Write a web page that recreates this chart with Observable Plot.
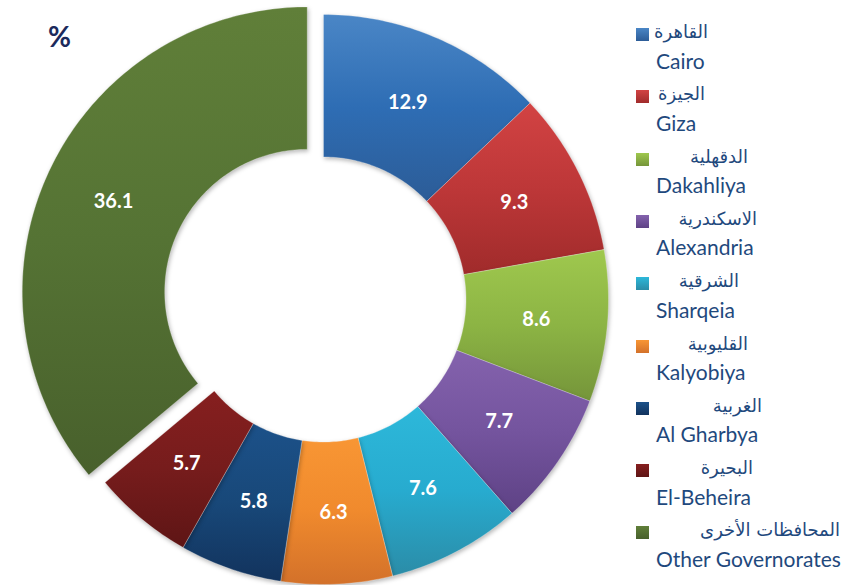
<!DOCTYPE html>
<html>
<head>
<meta charset="utf-8">
<script src="https://cdn.jsdelivr.net/npm/d3@7"></script>
<script src="https://cdn.jsdelivr.net/npm/@observablehq/plot@0.6"></script>
<style>
  html, body { margin: 0; padding: 0; background: #ffffff; }
  #wrap { position: relative; width: 860px; height: 585px; overflow: hidden; }
  #chart { position: absolute; left: 0; top: 0; }
  .pct { position: absolute; left: 48px; top: 22px; font: bold 28px/28px Lato, sans-serif; color: #1c2a5c; }
  .lg-sq { position: absolute; width: 13px; height: 13px; }
  .lg-ar { position: absolute; font: 18px/18px "DejaVu Sans", sans-serif; color: #1F497D; direction: rtl; white-space: nowrap; }
  .lg-en { position: absolute; font: 21px/21px Lato, sans-serif; color: #1F497D; white-space: nowrap; }
</style>
</head>
<body>
<div id="wrap">
  <div id="chart"></div>
  <div class="pct">%</div>
</div>
<script>
// ---- data ----
const namesAr = ["القاهرة", "الجيزة", "الدقهلية", "الاسكندرية", "الشرقية", "القليوبية", "الغربية", "البحيرة", "المحافظات الأخرى"];
const namesEn = ["Cairo", "Giza", "Dakahliya", "Alexandria", "Sharqeia", "Kalyobiya", "Al Gharbya", "El-Beheira", "Other Governorates"];
const shares = [12.9, 9.3, 8.6, 7.7, 7.6, 6.3, 5.8, 5.7, 36.1];

// ---- styles ----
const colTop = ["#4a86c6", "#d24343", "#9fc84e", "#8462ad", "#2db8da", "#f89634", "#1c5189", "#861f1f", "#607f39"];
const colMid = ["#2e6db4", "#bd3738", "#8cb444", "#74549e", "#27abcf", "#f08a2d", "#184879", "#761c1c", "#557334"];
const colBot = ["#2c5c97", "#a02b2b", "#75953a", "#5e4285", "#2b8ca7", "#d3712a", "#12335d", "#5e1515", "#48602c"];
const explode = [0, 0, 0, 0, 0, 0, 0, 0, 0.063];
const arRight = [708, 705, 748, 757, 739, 748, 762, 753, 840];

// ---- layout ----
const W = 860, H = 585, CX = 323, CY = 299, R = 285, INNER = 0.5;

const pie = d3.pie().sort(null).value(d => d)(shares);
const slices = pie.map((p, i) => {
  const mid = (p.startAngle + p.endAngle) / 2;
  const ox = explode[i] * Math.sin(mid), oy = explode[i] * Math.cos(mid);
  const n = Math.max(4, Math.ceil((p.endAngle - p.startAngle) * 180 / Math.PI));
  const pts = [];
  for (let k = 0; k <= n; k++) {
    const a = p.startAngle + (p.endAngle - p.startAngle) * k / n;
    pts.push({x: ox + Math.sin(a), y: oy + Math.cos(a)});
  }
  for (let k = n; k >= 0; k--) {
    const a = p.startAngle + (p.endAngle - p.startAngle) * k / n;
    pts.push({x: ox + INNER * Math.sin(a), y: oy + INNER * Math.cos(a)});
  }
  pts.push(pts[0]);
  const rm = (1 + INNER) / 2;
  return {i, pts, label: {x: ox + rm * Math.sin(mid), y: oy + rm * Math.cos(mid), text: shares[i].toFixed(1)}};
});

const marks = slices.map(s => Plot.line(s.pts, {
  x: "x", y: "y", fill: `url(#slice-grad-${s.i})`,
  stroke: "#ffffff", strokeOpacity: 0.35, strokeWidth: 0.8, curve: "linear"
}));
marks.push(Plot.text(slices.map(s => s.label), {
  x: "x", y: "y", text: "text", fill: "#ffffff",
  fontSize: 20, fontWeight: "bold", fontFamily: "Lato, sans-serif"
}));

const svg = Plot.plot({
  width: W, height: H, margin: 0,
  x: {domain: [-CX / R, (W - CX) / R], axis: null},
  y: {domain: [-(H - CY) / R, CY / R], axis: null},
  style: {background: "transparent", overflow: "visible"},
  marks
});

// gradient definitions
const NS = "http://www.w3.org/2000/svg";
const defs = document.createElementNS(NS, "defs");
shares.forEach((_, i) => {
  const g = document.createElementNS(NS, "linearGradient");
  g.setAttribute("id", `slice-grad-${i}`);
  g.setAttribute("x1", "0"); g.setAttribute("y1", "0");
  g.setAttribute("x2", "0"); g.setAttribute("y2", "1");
  [[0, colTop[i]], [0.5, colMid[i]], [1, colBot[i]]].forEach(([o, c]) => {
    const st = document.createElementNS(NS, "stop");
    st.setAttribute("offset", o);
    st.setAttribute("stop-color", c);
    g.appendChild(st);
  });
  defs.appendChild(g);
});
svg.insertBefore(defs, svg.firstChild);
svg.querySelectorAll('g[aria-label="line"]').forEach(g => {
  g.style.filter = "drop-shadow(1px 2px 2px rgba(0,0,0,0.28))";
});
document.getElementById("chart").appendChild(svg);

// legend
const wrap = document.getElementById("wrap");
namesEn.forEach((en, i) => {
  const top = 28 + i * 62.3;
  const sq = document.createElement("div");
  sq.className = "lg-sq";
  sq.style.left = "636px"; sq.style.top = top + "px";
  sq.style.background = `linear-gradient(${colTop[i]}, ${colBot[i]})`;
  wrap.appendChild(sq);
  const ar = document.createElement("div");
  ar.className = "lg-ar";
  ar.textContent = namesAr[i];
  ar.style.right = (W - arRight[i]) + "px";
  ar.style.top = (top - 5) + "px";
  wrap.appendChild(ar);
  const e = document.createElement("div");
  e.className = "lg-en";
  e.textContent = en;
  e.style.left = "656px";
  e.style.top = (top + 21.5) + "px";
  wrap.appendChild(e);
});
</script>
</body>
</html>
